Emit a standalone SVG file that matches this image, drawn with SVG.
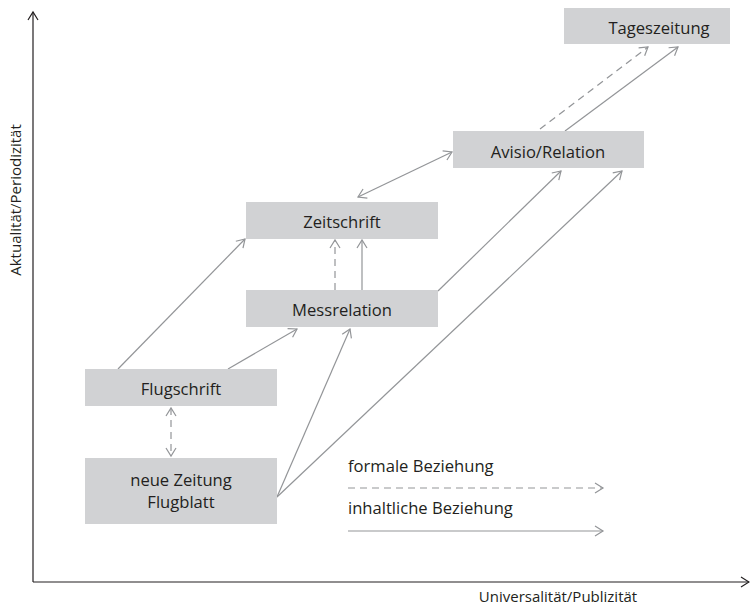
<svg xmlns="http://www.w3.org/2000/svg" width="750" height="606" viewBox="0 0 750 606">
  <style>
    .box { fill: #d1d2d4; }
    .lbl { font-family: "Open Sans", "Liberation Sans", sans-serif; font-size: 16.6px; fill: #231f20; text-anchor: middle; }
    .axislbl { font-family: "Open Sans", "Liberation Sans", sans-serif; font-size: 15px; fill: #231f20; text-anchor: middle; }
    .con { stroke: #939598; stroke-width: 1.2; fill: none; }
    .dash { stroke-dasharray: 7 5; }
    .axis { stroke: #231f20; stroke-width: 1.2; fill: none; }
  </style>
  <defs>
    <marker id="arr" viewBox="-10 -6 12 12" refX="0" refY="0" markerWidth="12" markerHeight="12" markerUnits="userSpaceOnUse" orient="auto-start-reverse">
      <path d="M-8,-5 L0,0 L-8,5" fill="none" stroke="#939598" stroke-width="1.2"/>
    </marker>
    <marker id="axarr" viewBox="-10 -6 12 12" refX="0" refY="0" markerWidth="12" markerHeight="12" markerUnits="userSpaceOnUse" orient="auto">
      <path d="M-8,-5 L0,0 L-8,5" fill="none" stroke="#231f20" stroke-width="1.2"/>
    </marker>
  </defs>

  <g id="axes">
    <line class="axis" x1="33" y1="582" x2="33" y2="12" marker-end="url(#axarr)"/>
    <line class="axis" x1="33" y1="582" x2="749" y2="582" marker-end="url(#axarr)"/>
    <text class="axislbl" transform="translate(21,200) rotate(-90)">Aktualität/Periodizität</text>
    <text class="axislbl" x="558" y="602">Universalität/Publizität</text>
  </g>

  <g id="connectors">
    <line class="con dash" x1="540" y1="129" x2="648" y2="47" marker-end="url(#arr)"/>
    <line class="con" x1="565" y1="131" x2="678" y2="47" marker-end="url(#arr)"/>
    <line class="con" x1="358" y1="197" x2="452" y2="152" marker-start="url(#arr)" marker-end="url(#arr)"/>
    <line class="con dash" x1="335" y1="290" x2="335" y2="240" marker-end="url(#arr)"/>
    <line class="con" x1="362" y1="290" x2="362" y2="240" marker-end="url(#arr)"/>
    <line class="con" x1="438" y1="291" x2="561" y2="171" marker-end="url(#arr)"/>
    <line class="con" x1="277" y1="497" x2="622" y2="171" marker-end="url(#arr)"/>
    <line class="con" x1="277" y1="497" x2="350" y2="329" marker-end="url(#arr)"/>
    <line class="con" x1="228" y1="369" x2="297" y2="329" marker-end="url(#arr)"/>
    <line class="con" x1="118" y1="369" x2="245" y2="239" marker-end="url(#arr)"/>
    <line class="con dash" x1="171" y1="408" x2="171" y2="456" marker-start="url(#arr)" marker-end="url(#arr)"/>
  </g>

  <g id="tageszeitung">
    <rect class="box" x="564" y="8" width="166" height="36"/>
    <text class="lbl" x="659" y="34">Tageszeitung</text>
  </g>
  <g id="avisio">
    <rect class="box" x="453" y="131" width="191" height="37"/>
    <text class="lbl" x="548" y="158">Avisio/Relation</text>
  </g>
  <g id="zeitschrift">
    <rect class="box" x="246" y="202" width="192" height="37"/>
    <text class="lbl" x="342" y="228">Zeitschrift</text>
  </g>
  <g id="messrelation">
    <rect class="box" x="246" y="290" width="192" height="37"/>
    <text class="lbl" x="342" y="316">Messrelation</text>
  </g>
  <g id="flugschrift">
    <rect class="box" x="85" y="369" width="192" height="37"/>
    <text class="lbl" x="181" y="395">Flugschrift</text>
  </g>
  <g id="neuezeitung">
    <rect class="box" x="85" y="458" width="192" height="66"/>
    <text class="lbl" x="181" y="486">neue Zeitung</text>
    <text class="lbl" x="181" y="508">Flugblatt</text>
  </g>

  <g id="legend">
    <text class="lbl" x="348" y="472" style="text-anchor:start">formale Beziehung</text>
    <line class="con dash" x1="348" y1="488" x2="603" y2="488" marker-end="url(#arr)"/>
    <text class="lbl" x="348" y="514" style="text-anchor:start">inhaltliche Beziehung</text>
    <line class="con" x1="348" y1="531" x2="603" y2="531" marker-end="url(#arr)"/>
  </g>
</svg>
